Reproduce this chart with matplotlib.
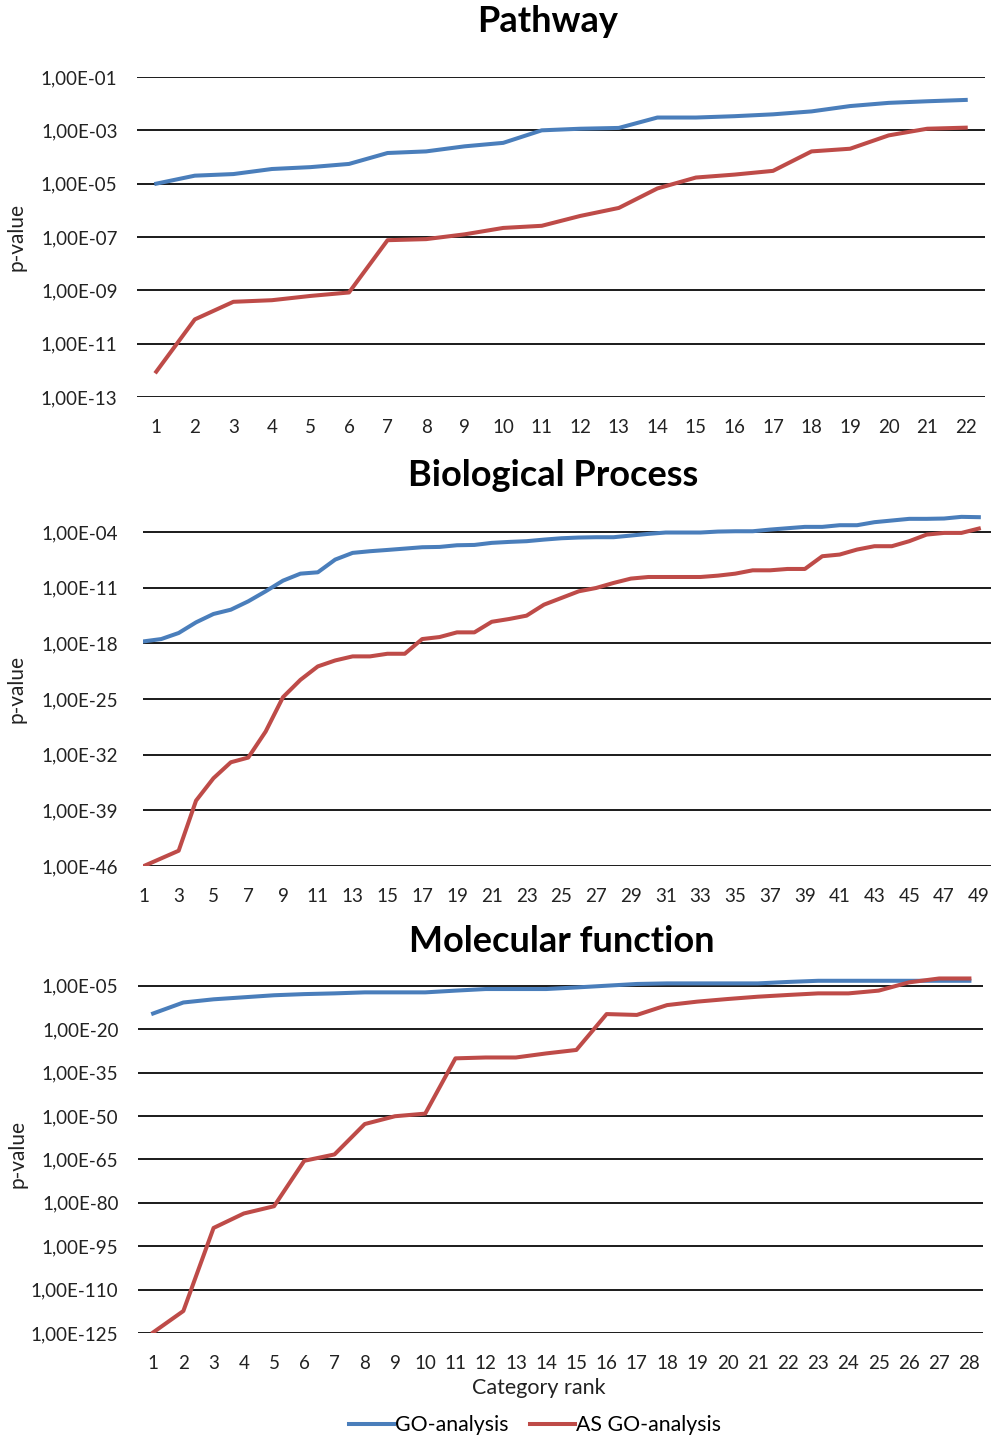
import matplotlib.pyplot as plt
import numpy as np

# log10(p-value), per category rank
pathway_go = [-5.0, -4.7, -4.64, -4.45, -4.38, -4.26, -3.85, -3.79, -3.6, -3.47, -3.0,
              -2.94, -2.91, -2.52, -2.52, -2.47, -2.4, -2.29, -2.09, -1.97, -1.91, -1.86]
pathway_as = [-12.05, -10.09, -9.43, -9.37, -9.21, -9.08, -7.12, -7.08, -6.9, -6.66, -6.58,
              -6.21, -5.91, -5.18, -4.77, -4.66, -4.52, -3.79, -3.69, -3.19, -2.94, -2.9]

bio_go = [-17.76, -17.47, -16.71, -15.37, -14.32, -13.78, -12.73, -11.47, -10.13, -9.25,
          -9.08, -7.48, -6.64, -6.43, -6.27, -6.1, -5.93, -5.89, -5.68, -5.64, -5.38,
          -5.26, -5.17, -4.97, -4.8, -4.71, -4.67, -4.67, -4.46, -4.25, -4.08, -4.08,
          -4.08, -3.96, -3.92, -3.92, -3.71, -3.54, -3.37, -3.37, -3.16, -3.16, -2.78,
          -2.57, -2.36, -2.36, -2.32, -2.11, -2.15]
bio_as = [-46.0, -45.04, -44.08, -37.78, -34.97, -32.96, -32.37, -29.1, -24.77, -22.6,
          -20.91, -20.16, -19.65, -19.65, -19.32, -19.32, -17.47, -17.22, -16.63, -16.63,
          -15.3, -14.95, -14.53, -13.15, -12.31, -11.47, -11.05, -10.42, -9.87, -9.67,
          -9.67, -9.67, -9.67, -9.5, -9.25, -8.83, -8.83, -8.66, -8.66, -7.06, -6.85,
          -6.22, -5.8, -5.8, -5.17, -4.34, -4.13, -4.13, -3.58]

mol_go = [-14.6, -10.8, -9.7, -9.0, -8.3, -7.9, -7.65, -7.3, -7.3, -7.3, -6.7, -6.15,
          -6.15, -6.15, -5.6, -5.0, -4.4, -4.2, -4.2, -4.2, -4.2, -3.7, -3.3, -3.3,
          -3.3, -3.3, -3.3, -3.3]
mol_as = [-124.8, -117.4, -88.7, -83.7, -81.2, -65.5, -63.3, -52.8, -50.1, -49.2, -30.1,
          -29.8, -29.8, -28.4, -27.2, -14.8, -15.1, -11.7, -10.5, -9.6, -8.8, -8.2,
          -7.65, -7.65, -6.7, -3.85, -2.5, -2.5]

pathway_ticks = [-13, -11, -9, -7, -5, -3, -1]
bio_ticks = [-46, -39, -32, -25, -18, -11, -4]
mol_ticks = [-125, -110, -95, -80, -65, -50, -35, -20, -5]

BLUE = '#4a7ebb'
RED = '#be4b48'
FONT = 'Lato'
W, H = 994, 1439

plt.rcParams['font.family'] = [FONT, 'DejaVu Sans']


def exp_label(e):
    return "1,00E-%02d" % (-e) if e > -100 else "1,00E-%d" % (-e)


def make_panel(fig, box, go, as_, yticks, ylim, xlim, xstep, ypad):
    l, t, r, b = box
    ax = fig.add_axes([l / W, 1 - b / H, (r - l) / W, (b - t) / H])
    ranks = np.arange(1, len(go) + 1)
    for yt in yticks:
        ax.axhline(yt, color='#1a1a1a', lw=1.4, zorder=1)
    ax.plot(ranks, go, color=BLUE, lw=2.9, zorder=3, solid_joinstyle='round')
    ax.plot(ranks, as_, color=RED, lw=2.9, zorder=3, solid_joinstyle='round')
    ax.set_xlim(*xlim)
    ax.set_ylim(*ylim)
    ax.set_yticks(yticks)
    ax.set_yticklabels([exp_label(e) for e in yticks])
    ax.set_xticks(ranks[::xstep])
    ax.set_xticklabels([str(k) for k in ranks[::xstep]])
    for s in ax.spines.values():
        s.set_visible(False)
    ax.tick_params(axis='both', length=0, labelsize=13.5, colors='#222222')
    ax.tick_params(axis='x', pad=16)
    ax.tick_params(axis='y', pad=ypad)
    ax.set_ylabel('p-value', fontsize=15, color='#222222')
    ax.yaxis.set_label_coords((27 - l) / (r - l), 0.5)
    return ax


fig = plt.figure(figsize=(W / 100, H / 100), dpi=100)

make_panel(fig, (137, 77, 985, 397), pathway_go, pathway_as, pathway_ticks,
           (-13, -1), (0.5, 22.5), 1, 14)
make_panel(fig, (143, 512, 991, 866), bio_go, bio_as, bio_ticks,
           (-46, -1.5), (0.95, 49.7), 2, 18)
make_panel(fig, (138, 975, 983, 1333), mol_go, mol_as, mol_ticks,
           (-125, -1.3), (0.5, 28.45), 1, 14)

fig.text(548 / W, 1 - 22 / H, 'Pathway', ha='center', va='center',
         fontsize=26, fontweight='bold')
fig.text(553 / W, 1 - 475 / H, 'Biological Process', ha='center', va='center',
         fontsize=26, fontweight='bold')
fig.text(562 / W, 1 - 942 / H, 'Molecular function', ha='center', va='center',
         fontsize=26, fontweight='bold')
fig.text(539 / W, 1 - 1388 / H, 'Category rank', ha='center', va='center',
         fontsize=15.5, color='#222222')

handles = [plt.Line2D([], [], color=BLUE, lw=2.9), plt.Line2D([], [], color=RED, lw=2.9)]
fig.legend(handles, ['GO-analysis', 'AS GO-analysis'], loc='center',
           bbox_to_anchor=(535 / W, 1 - 1425 / H), ncol=2, frameon=False,
           fontsize=15.3, handlelength=2.1, handletextpad=0.05, columnspacing=1.0)

fig.savefig('out.png', dpi=100)
